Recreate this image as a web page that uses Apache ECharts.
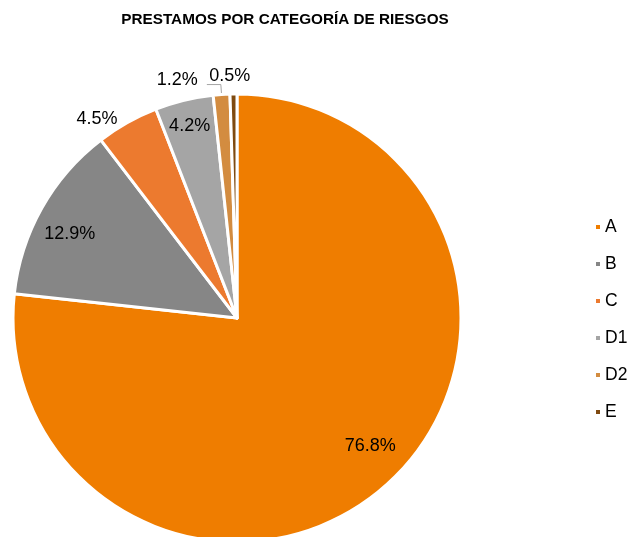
<!DOCTYPE html>
<html>
<head>
<meta charset="utf-8">
<script src="https://cdn.jsdelivr.net/npm/echarts@6/dist/echarts.min.js"></script>
<style>
  html, body { margin: 0; padding: 0; background: #fff; }
  #chart { width: 629px; height: 537px; }
</style>
</head>
<body>
<div id="chart"></div>
<script>
const categories = ['A', 'B', 'C', 'D1', 'D2', 'E']
const shares = [76.8, 12.9, 4.5, 4.2, 1.2, 0.5]
const colors = ['#EF7D00', '#868686', '#EC7A2F', '#A5A5A5', '#D38C40', '#7F4A10']
// which labels sit inside the slice
const insideLabel = [true, true, false, true, false, false]

const fmt = p => p.value.toFixed(1) + '%'

const myChart = echarts.init(document.getElementById('chart'))
myChart.setOption({
  animation: false,
  title: {
    text: 'PRESTAMOS POR CATEGORÍA DE RIESGOS',
    left: 280,
    textAlign: 'center',
    top: 7,
    textStyle: {
      fontFamily: 'Liberation Sans',
      fontSize: 15.3,
      fontWeight: 'bold',
      color: '#000'
    }
  },
  legend: {
    orient: 'vertical',
    left: 589,
    top: 213,
    icon: 'rect',
    itemWidth: 6,
    itemHeight: 6,
    itemGap: 19,
    data: categories,
    textStyle: {
      fontFamily: 'Liberation Sans',
      fontSize: 17.5,
      color: '#000',
      padding: [0, 0, 0, -1]
    }
  },
  series: [
    {
      name: 'riesgo',
      type: 'pie',
      center: [237, 318],
      radius: [0, 224],
      startAngle: 90,
      clockwise: true,
      avoidLabelOverlap: false,
      itemStyle: { borderColor: '#fff', borderWidth: 3 },
      emphasis: { scale: false },
      label: {
        position: 'outside',
        formatter: fmt,
        fontFamily: 'Liberation Sans',
        fontSize: 18,
        color: '#000'
      },
      labelLine: {
        show: false,
        length: 10,
        length2: 0,
        lineStyle: { color: '#A5A5A5', width: 1 }
      },
      labelLayout: function (params) {
        // 0.5% label sits centred above its thin slice
        if (params.dataIndex === 5) return { dx: 22, dy: -8 }
        if (params.dataIndex === 4) return { dx: -4, dy: -5 }
        if (params.dataIndex === 2) return { dy: 5 }
        return {}
      },
      data: categories.map((c, i) => ({
        name: c,
        value: shares[i],
        itemStyle: { color: colors[i] },
        label: { show: !insideLabel[i] },
        labelLine: i === 4 ? { show: true, length: 10, length2: 14 } : undefined
      }))
    },
    {
      // transparent copy only used to place the inside labels further out
      name: 'etiquetas',
      type: 'pie',
      center: [237, 318],
      radius: [0, 378],
      startAngle: 90,
      clockwise: true,
      silent: true,
      legendHoverLink: false,
      avoidLabelOverlap: false,
      itemStyle: { color: 'rgba(0,0,0,0)' },
      emphasis: { disabled: true },
      label: {
        position: 'inside',
        formatter: fmt,
        fontFamily: 'Liberation Sans',
        fontSize: 18,
        color: '#000'
      },
      labelLine: { show: false },
      labelLayout: function (params) {
        if (params.dataIndex === 0) return { dx: 5, dy: -15 }
        if (params.dataIndex === 1) return { dy: 10 }
        if (params.dataIndex === 3) return { dx: -2, dy: -5 }
        return {}
      },
      data: categories.map((c, i) => ({
        name: c,
        value: shares[i],
        label: { show: insideLabel[i] }
      }))
    }
  ]
})
</script>
</body>
</html>
